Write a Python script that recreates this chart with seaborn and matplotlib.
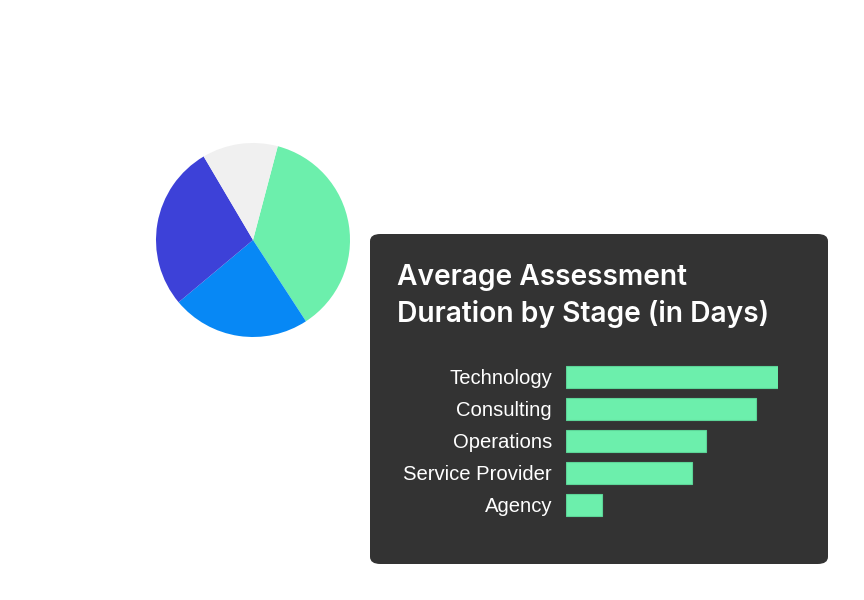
import matplotlib
matplotlib.use("Agg")
import matplotlib.pyplot as plt
from matplotlib.patches import FancyBboxPatch
import seaborn as sns
import pandas as pd

sns.set_theme(style="white")
plt.rcParams["font.family"] = ["Liberation Sans", "DejaVu Sans"]

# pie data (shares, clockwise from the green slice)
pie_labels = ["Green", "Blue", "Indigo", "Gray"]
pie_values = [36.7, 23.1, 27.6, 12.6]
pie_colors = ["#6cefac", "#0788f5", "#3d41d8", "#f0f0f0"]

# bar data
stages = ["Technology", "Consulting", "Operations", "Service Provider", "Agency"]
days = [53, 47.5, 35, 31.5, 9]
bar_color = "#6cefac"
panel_color = "#333333"

W, H = 864, 600


def fig_rect(x, y, w, h):
    # pixel box (top-left origin) -> figure fraction
    return [x / W, 1 - (y + h) / H, w / W, h / H]


def main():
    fig = plt.figure(figsize=(W / 100, H / 100), dpi=100)
    fig.patch.set_facecolor("white")

    # dark panel
    px, py, pw, ph = fig_rect(370, 234, 458, 330)
    panel = FancyBboxPatch((px, py), pw, ph,
                           boxstyle="round,pad=0,rounding_size=0.012",
                           transform=fig.transFigure, facecolor=panel_color,
                           edgecolor="none", zorder=-5)
    fig.patches.append(panel)

    # pie
    ax_pie = fig.add_axes(fig_rect(156, 143, 194, 194))
    ax_pie.pie(pie_values, colors=pie_colors, startangle=75.2,
               counterclock=False, radius=1.0,
               wedgeprops=dict(linewidth=0))
    ax_pie.set_aspect("equal")
    ax_pie.set_xlim(-1, 1)
    ax_pie.set_ylim(-1, 1)
    ax_pie.axis("off")

    # title
    fig.text(397 / W, 1 - 296 / H, "Average Assessment\nDuration by Stage (in Days)",
             color="white", fontsize=20.3, fontweight="semibold",
             family=["Inter", "DejaVu Sans"], va="center", ha="left",
             linespacing=1.38, zorder=5)

    # bars
    df = pd.DataFrame({"stage": stages, "days": days})
    ax = fig.add_axes(fig_rect(566, 361, 212, 160))
    ax.set_zorder(5)
    sns.barplot(data=df, x="days", y="stage", orient="h", color=bar_color,
                width=0.68, saturation=1, edgecolor="#5cd598", linewidth=0.8,
                ax=ax)
    ax.set_xlim(0, max(days))
    ax.set_ylim(4.5, -0.5)
    ax.patch.set_visible(False)
    for s in ax.spines.values():
        s.set_visible(False)
    ax.set_xticks([])
    ax.set_xlabel("")
    ax.set_ylabel("")
    ax.tick_params(axis="y", length=0, pad=10, labelsize=14.6, labelcolor="white")

    fig.savefig("out.png", dpi=100, facecolor="white")


if __name__ == "__main__":
    main()
